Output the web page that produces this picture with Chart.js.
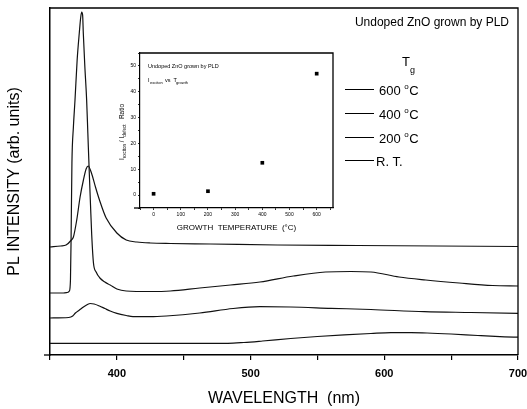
<!DOCTYPE html>
<html>
<head>
<meta charset="utf-8">
<script src="https://cdn.jsdelivr.net/npm/chart.js@4.4.1/dist/chart.umd.min.js"></script>
<style>
  html, body { margin: 0; padding: 0; background: #fff; }
  #wrap { position: relative; width: 527px; height: 409px; }
  #mainChart { position: absolute; left: 0; top: 0; }
  #insetChart { position: absolute; left: 100px; top: 40px; }
</style>
</head>
<body>
<div id="wrap">
  <canvas id="mainChart" width="527" height="409"></canvas>
  <canvas id="insetChart" width="240" height="200"></canvas>
</div>
<script>
// --- PL 스펙트럼 데이터 (파장 nm / 세기 arb.) ---
const wl600 = [350, 358, 362, 366, 367.5, 370, 372.5, 375, 377, 378.6, 381, 384, 387, 392, 400, 407, 415, 425, 440, 470, 520, 580, 640, 700];
const pl600 = [108, 109, 110, 115, 118, 135, 158, 175, 186, 189, 182, 168, 155, 137, 122, 115, 113, 112, 111.5, 111, 110, 109.5, 109, 108.5];

const wl400 = [350, 360, 363, 364.5, 365.3, 365.8, 366.4, 367.5, 368.7, 370.3, 371.9, 373, 373.7, 374.4, 374.9, 376, 377.4, 378.3, 379.3, 380.3, 381.2, 382.5, 384.5, 387.3, 391, 395, 400, 407, 425, 440, 462, 485, 507, 532, 556, 575, 590, 611, 631, 656, 681, 700];
const pl400 = [62, 62, 62.5, 64, 75, 120, 192, 228, 255, 295, 322, 338, 343, 340, 322, 290, 255, 222, 185, 150, 120, 92, 83, 77, 73, 70, 66, 64, 63.5, 64, 67, 70, 73, 79, 83, 83.5, 83, 78, 75, 72, 69.5, 69];

const wl200 = [350, 364, 367, 369, 372, 375, 378, 380, 383, 387, 391, 395, 400, 407, 412, 425, 437, 462, 487, 507, 530, 560, 590, 630, 665, 700];
const pl200 = [37, 37.5, 39, 42, 45, 48, 50.5, 51.5, 51, 49, 46.5, 44, 41.7, 39.5, 38.3, 38.3, 39, 42, 46.5, 48.3, 48, 46.7, 45.5, 43.3, 42.5, 41.7];

const wlRT = [350, 400, 450, 483, 495, 509, 530, 550, 570, 590, 605, 620, 632, 650, 670, 690, 700];
const plRT = [11.7, 11.7, 11.7, 11.7, 12.5, 14, 16.5, 18.5, 20.2, 21.5, 22.3, 22.3, 22, 21, 19.5, 18.2, 17.8];

const xTicks = [350, 400, 450, 500, 550, 600, 650, 700];
const xLabels = [400, 500, 600, 700];
const legendLabels = ["600", "400", "200", "R. T."];

// --- 인셋 데이터 (성장 온도 / 세기 비) ---
const growthTemp = [0, 200, 400, 600];
const ratio = [0.5, 1.5, 12.5, 47];
const insetXTicks = [-50, 0, 50, 100, 150, 200, 250, 300, 350, 400, 450, 500, 550, 600, 650];
const insetXLabels = [0, 100, 200, 300, 400, 500, 600];
const insetYTicks = [-5, 0, 5, 10, 15, 20, 25, 30, 35, 40, 45, 50, 55];
const insetYLabels = [0, 10, 20, 30, 40, 50];

const FONT = "'Liberation Sans', Arial, sans-serif";
const toXY = (xs, ys) => xs.map((x, i) => ({ x: x, y: ys[i] }));

// 축 위/오른쪽 테두리
const framePlugin = {
    id: 'frame',
    afterDraw(chart) {
        const { ctx, chartArea: a } = chart;
        ctx.save();
        ctx.strokeStyle = '#000';
        ctx.lineWidth = 1.3;
        ctx.beginPath();
        ctx.moveTo(a.left, a.top);
        ctx.lineTo(a.right, a.top);
        ctx.lineTo(a.right, a.bottom);
        ctx.stroke();
        // 아래 축은 왼쪽으로 살짝 더 나감
        ctx.beginPath();
        ctx.moveTo(a.left - 6, a.bottom);
        ctx.lineTo(a.left, a.bottom);
        ctx.stroke();
        ctx.restore();
    }
};

// 메인 차트 범례 + 제목 텍스트
const mainLegendPlugin = {
    id: 'mainLegend',
    afterDraw(chart) {
        const ctx = chart.ctx;
        ctx.save();
        ctx.fillStyle = '#000';
        ctx.textBaseline = 'alphabetic';
        ctx.font = `12px ${FONT}`;
        ctx.textAlign = 'right';
        ctx.fillText('Undoped ZnO grown by PLD', 509, 26);

        ctx.textAlign = 'left';
        ctx.font = `13px ${FONT}`;
        ctx.fillText('T', 402, 66);
        ctx.font = `9px ${FONT}`;
        ctx.fillText('g', 410, 73);

        const rows = [89.5, 113.5, 137.5, 160.5];
        rows.forEach((y, i) => {
            ctx.strokeStyle = '#000';
            ctx.lineWidth = 1;
            ctx.beginPath();
            ctx.moveTo(345, y);
            ctx.lineTo(374, y);
            ctx.stroke();
            ctx.font = `13px ${FONT}`;
            const lab = legendLabels[i];
            if (lab === 'R. T.') {
                ctx.fillText(lab, 376, y + 5);
            } else {
                ctx.fillText(lab, 379, y + 5);
                let w = ctx.measureText(lab + ' ').width;
                ctx.font = `8px ${FONT}`;
                ctx.fillText('o', 379 + w, y - 1);
                ctx.font = `13px ${FONT}`;
                ctx.fillText('C', 379 + w + 5, y + 5);
            }
        });
        ctx.restore();
    }
};

function makeSeries(xs, ys) {
    return {
        data: toXY(xs, ys),
        showLine: true,
        borderColor: '#111',
        borderWidth: 1.2,
        pointRadius: 0,
        cubicInterpolationMode: 'monotone',
        fill: false
    };
}

new Chart(document.getElementById('mainChart'), {
    type: 'scatter',
    data: {
        datasets: [
            makeSeries(wl600, pl600),
            makeSeries(wl400, pl400),
            makeSeries(wl200, pl200),
            makeSeries(wlRT, plRT)
        ]
    },
    options: {
        responsive: false,
        animation: false,
        layout: { padding: { top: 8, right: 9, left: 0, bottom: 0 } },
        plugins: { legend: { display: false }, tooltip: { enabled: false } },
        scales: {
            x: {
                type: 'linear',
                min: 350,
                max: 700,
                afterBuildTicks: (axis) => { axis.ticks = xTicks.map(v => ({ value: v })); },
                afterFit: (axis) => { axis.height = 54; axis.paddingRight = 0; axis.paddingLeft = 0; },
                ticks: {
                    color: '#000',
                    padding: 7,
                    maxRotation: 0,
                    font: { family: FONT, size: 11, weight: 'bold' },
                    callback: (v) => xLabels.includes(v) ? String(v) : ''
                },
                grid: { drawOnChartArea: false, drawTicks: true, tickLength: 5, color: '#000', lineWidth: 1.2 },
                border: { display: true, color: '#000', width: 1.5 },
                title: {
                    display: true,
                    text: 'WAVELENGTH  (nm)',
                    color: '#000',
                    font: { family: FONT, size: 16 },
                    padding: { top: 0, bottom: 1 }
                }
            },
            y: {
                type: 'linear',
                min: 0,
                max: 347,
                afterFit: (axis) => { axis.width = 50; },
                ticks: { display: false },
                grid: { display: false },
                border: { display: true, color: '#000', width: 1.5 },
                title: {
                    display: true,
                    text: 'PL INTENSITY (arb. units)',
                    color: '#000',
                    font: { family: FONT, size: 16 },
                    padding: { top: 5, bottom: 0 }
                }
            }
        }
    },
    plugins: [framePlugin, mainLegendPlugin]
});

// --- 인셋 텍스트 ---
const insetTextPlugin = {
    id: 'insetText',
    afterDraw(chart) {
        const ctx = chart.ctx;
        ctx.save();
        ctx.fillStyle = '#000';
        ctx.textAlign = 'left';
        ctx.textBaseline = 'alphabetic';
        ctx.font = `5.5px ${FONT}`;
        ctx.fillText('Undoped ZnO grown by PLD', 48, 28);
        ctx.fillText('I', 48, 42);
        ctx.font = `4px ${FONT}`;
        ctx.fillText('exciton', 50, 43.5);
        ctx.font = `5.5px ${FONT}`;
        ctx.fillText('vs  T', 65, 42);
        ctx.font = `4px ${FONT}`;
        ctx.fillText('growth', 76, 43.5);

        // 세로 축 제목
        ctx.translate(22, 92);
        ctx.rotate(-Math.PI / 2);
        const parts = [
            ['I', 6.5, 0], ['exciton', 4.5, 2], [' / I', 6.5, 0], ['defect', 4.5, 2], ['   Ratio', 6.5, 0]
        ];
        let total = 0;
        parts.forEach(p => { ctx.font = `${p[1]}px ${FONT}`; total += ctx.measureText(p[0]).width; });
        let x = -total / 2;
        parts.forEach(p => {
            ctx.font = `${p[1]}px ${FONT}`;
            ctx.fillText(p[0], x, p[2] + 2);
            x += ctx.measureText(p[0]).width;
        });
        ctx.restore();
    }
};

new Chart(document.getElementById('insetChart'), {
    type: 'scatter',
    data: {
        datasets: [{
            data: toXY(growthTemp, ratio),
            pointStyle: 'rect',
            pointRadius: 2.6,
            backgroundColor: '#000',
            borderColor: '#000',
            borderWidth: 0
        }]
    },
    options: {
        responsive: false,
        animation: false,
        layout: { padding: { top: 13, right: 7, left: 0, bottom: 0 } },
        plugins: { legend: { display: false }, tooltip: { enabled: false } },
        scales: {
            x: {
                type: 'linear',
                min: -50,
                max: 660,
                afterBuildTicks: (axis) => { axis.ticks = insetXTicks.map(v => ({ value: v })); },
                afterFit: (axis) => { axis.height = 32; },
                ticks: {
                    color: '#000',
                    padding: 2,
                    maxRotation: 0,
                    minRotation: 0,
                    autoSkip: false,
                    font: { family: FONT, size: 5 },
                    callback: (v) => insetXLabels.includes(v) ? String(v) : ''
                },
                grid: { drawOnChartArea: false, drawTicks: true, tickLength: 2, color: '#000', lineWidth: 0.8 },
                border: { display: true, color: '#000', width: 1.2 },
                title: {
                    display: true,
                    text: 'GROWTH  TEMPERATURE  (°C)',
                    color: '#000',
                    font: { family: FONT, size: 8 },
                    padding: { top: 0, bottom: 7 }
                }
            },
            y: {
                type: 'linear',
                min: -5,
                max: 55,
                afterBuildTicks: (axis) => { axis.ticks = insetYTicks.map(v => ({ value: v })); },
                afterFit: (axis) => { axis.width = 40; },
                ticks: {
                    color: '#000',
                    padding: 2,
                    autoSkip: false,
                    font: { family: FONT, size: 5 },
                    callback: (v) => insetYLabels.includes(v) ? String(v) : ''
                },
                grid: { drawOnChartArea: false, drawTicks: true, tickLength: 2, color: '#000', lineWidth: 0.8 },
                border: { display: true, color: '#000', width: 1.2 }
            }
        }
    },
    plugins: [framePlugin, insetTextPlugin]
});
</script>
</body>
</html>
